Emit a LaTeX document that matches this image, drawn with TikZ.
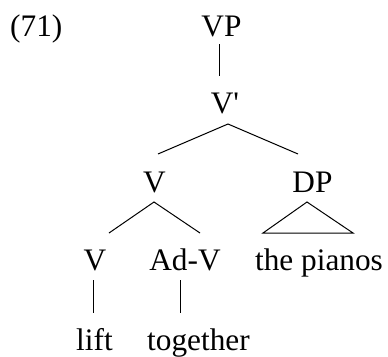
\documentclass[tikz,border=0pt]{standalone}
\usepackage{fontspec}
\setmainfont{Liberation Serif}
\begin{document}
\begin{tikzpicture}[x=1pt,y=-1pt,
  lab/.style={anchor=base,inner sep=0pt,font=\fontsize{31.3}{36}\selectfont},
  edge/.style={line width=1pt}]
\useasboundingbox (0,0) rectangle (388,356);
\node[lab,anchor=base west] (ex) at (10,36) {(71)};
\node[lab] (vp) at (221.5,36) {VP};
\node[lab] (vbar) at (225,113) {V\textquotesingle};
\node[lab] (v1) at (154.5,192) {V};
\node[lab] (dp) at (312.5,192) {DP};
\node[lab] (v2) at (95,270) {V};
\node[lab] (adv) at (185,270) {Ad-V};
\node[lab] (np) at (319,270) {the pianos};
\node[lab] (lift) at (94.5,350) {lift};
\node[lab] (tog) at (198.5,350) {together};
% connector end points
\coordinate (vpB) at (219,44);
\coordinate (vbarT) at (219,76);
\coordinate (vbarB) at (228,124);
\coordinate (v1T) at (158,154);
\coordinate (dpT) at (298,154);
\coordinate (v1B) at (154,202);
\coordinate (v2T) at (109,233);
\coordinate (advT) at (200,233);
\coordinate (dpB) at (307,202);
\coordinate (npL) at (263,233);
\coordinate (npR) at (353,233);
\coordinate (v2B) at (93,280);
\coordinate (liftT) at (93,313);
\coordinate (advB) at (180,280);
\coordinate (togT) at (180,313);
\draw[edge] (vpB) -- (vbarT);
\draw[edge] (v1T) -- (vbarB) -- (dpT);
\draw[edge] (v2T) -- (v1B) -- (advT);
\draw[edge] (npL) -- (dpB) -- (npR) -- cycle;
\draw[edge] (v2B) -- (liftT);
\draw[edge] (advB) -- (togT);
\end{tikzpicture}
\end{document}
